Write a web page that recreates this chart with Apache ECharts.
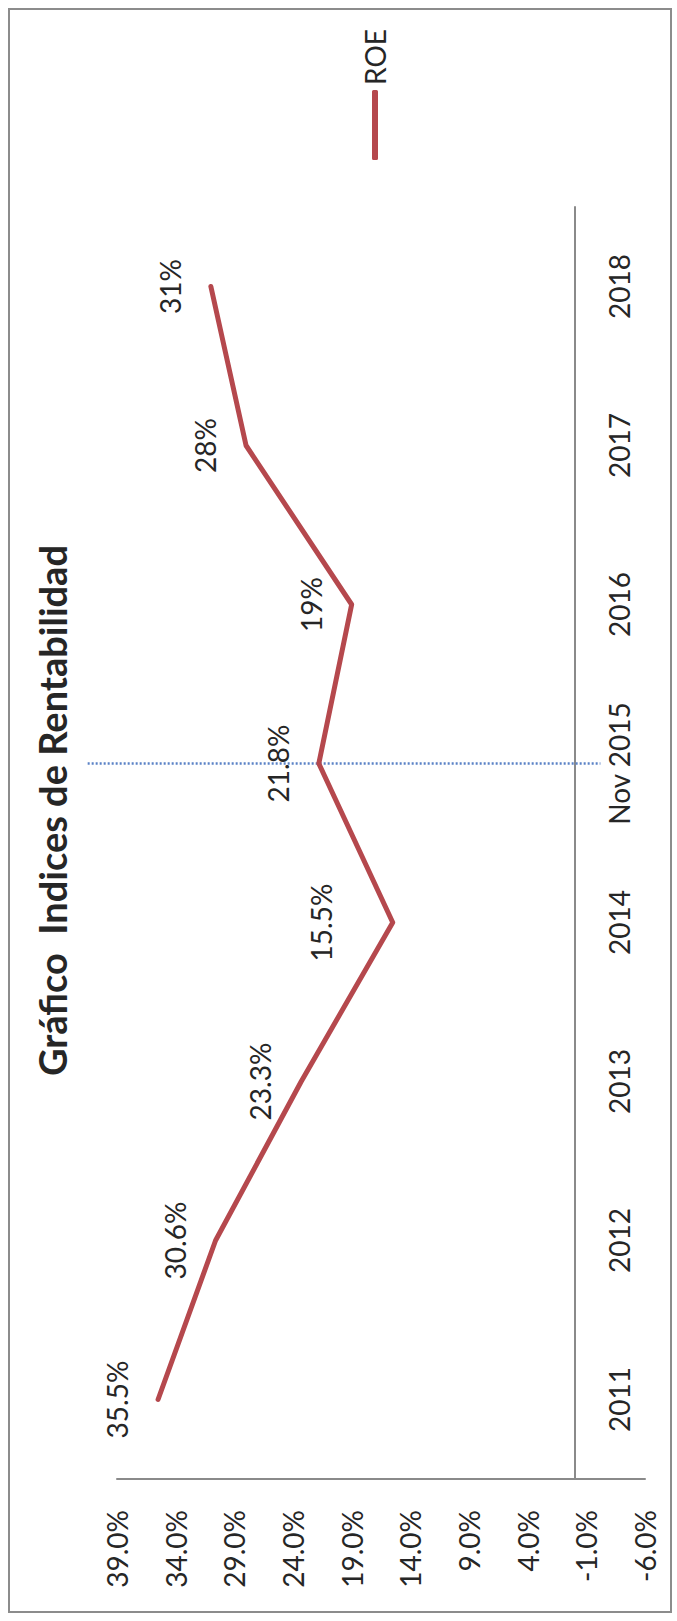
<!DOCTYPE html>
<html><head><meta charset="utf-8">
<script src="https://cdn.jsdelivr.net/npm/echarts@6/dist/echarts.min.js"></script>
<style>
html,body{margin:0;padding:0;background:#fff;width:677px;height:1621px;overflow:hidden;}
#frame{position:absolute;left:8px;top:8px;width:664px;height:1605px;border:2px solid #8c8c8c;box-sizing:border-box;}
#wrap{position:absolute;left:0;top:0;width:1621px;height:677px;transform-origin:0 0;transform:translate(0px,1621px) rotate(-90deg);}
</style></head><body>
<div id="frame"></div>
<div id="wrap"></div>
<script>
const categories = ['2011','2012','2013','2014','Nov 2015','2016','2017','2018'];
const roeValues = [35.5, 30.6, 23.3, 15.5, 21.8, 19, 28, 31];
const roeLabels = ['35.5%','30.6%','23.3%','15.5%','21.8%','19%','28%','31%'];
const valueMin = -6;
const valueMax = 39;
const valueStep = 5;
const seriesName = 'ROE';
const titleText = 'Gráfico  Indices de Rentabilidad';
const markerCategory = 'Nov 2015';
const markerRange = [41.5, -2.2];

const FONT = 'Lato, "Open Sans", sans-serif';
const YEAR_GAP = 30;
const chart = echarts.init(document.getElementById('wrap'), null, {renderer:'svg', width:1621, height:677});
const seriesData = roeValues.map((v, i) => i === 3 ? {value:v, label:{distance:58, offset:[26, 0]}} : v);
chart.setOption({
  animation:false,
  backgroundColor:'transparent',
  title:{text:titleText, left:'center', top:28, textStyle:{fontFamily:FONT, fontWeight:'bold', fontSize:38, color:'#262626'}},
  legend:{orient:'vertical', right:24, top:356, icon:'roundRect', itemWidth:70, itemHeight:6,
    textStyle:{fontFamily:FONT, fontSize:28, color:'#262626'}, data:[seriesName]},
  grid:{left:142, right:207, top:117, bottom:32, containLabel:false, outerBoundsMode:'none'},
  xAxis:{type:'category', data:categories, boundaryGap:true,
    axisLine:{onZero:true, lineStyle:{color:'#8a8a8a', width:2}},
    axisTick:{show:false},
    axisLabel:{margin:YEAR_GAP, fontFamily:FONT, fontSize:28, color:'#262626', interval:0}},
  yAxis:{type:'value', min:valueMin, max:valueMax, interval:valueStep,
    axisLine:{show:true, lineStyle:{color:'#8a8a8a', width:2}},
    axisTick:{show:false}, splitLine:{show:false},
    axisLabel:{margin:31, fontFamily:FONT, fontSize:28, color:'#262626', formatter:v=>v.toFixed(1)+'%'}},
  series:[{name:seriesName, type:'line', data:seriesData, symbol:'circle', symbolSize:0.01, showSymbol:true, z:3,
    itemStyle:{color:'#b5484d'},
    lineStyle:{color:'#b5484d', width:5, join:'round', cap:'round'},
    label:{show:true, position:'top', distance:27, fontFamily:FONT, fontSize:28, color:'#262626',
      formatter:p=>roeLabels[p.dataIndex]},
    labelLayout:{hideOverlap:false}}]
});
// year labels sit next to the zero line (where the category axis crosses)
const vZero = chart.convertToPixel({yAxisIndex:0}, 0);
const vBottom = chart.convertToPixel({yAxisIndex:0}, valueMin);
const mu = chart.convertToPixel({xAxisIndex:0}, categories.indexOf(markerCategory));
const mv1 = chart.convertToPixel({yAxisIndex:0}, markerRange[0]);
const mv2 = chart.convertToPixel({yAxisIndex:0}, markerRange[1]);
chart.setOption({
  xAxis:{axisLabel:{margin: YEAR_GAP - (vBottom - vZero)}},
  graphic:[{type:'line', z:1, shape:{x1:mu, y1:mv1, x2:mu, y2:mv2},
    style:{stroke:'#5b82c6', lineWidth:2.5, lineDash:[2,2]}}]});
</script>
</body></html>
